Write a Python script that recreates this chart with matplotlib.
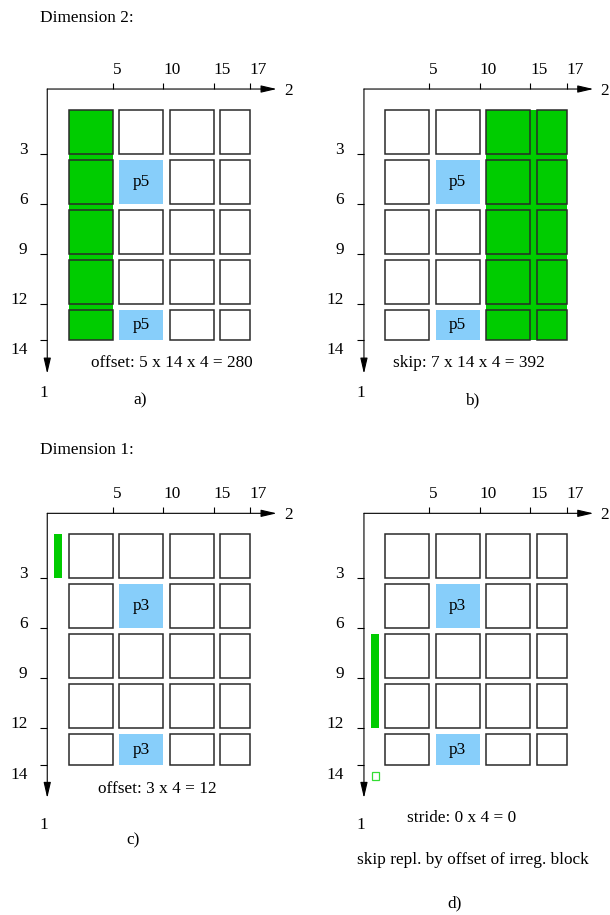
import numpy as np
import matplotlib.pyplot as plt
from matplotlib.patches import Rectangle

plt.rcParams['font.family'] = ['Liberation Serif', 'DejaVu Serif']
plt.rcParams['font.size'] = 12.4


# Block layout of the 17 x 14 array (element indices)
col_edges = [0, 5, 10, 15, 17]      # dimension 2
row_edges = [0, 3, 6, 9, 12, 14]    # dimension 1
col_ticks = [5, 10, 15, 17]
row_ticks = [3, 6, 9, 12, 14]

# the small last blocks are drawn a little wider than to scale
col_draw = [0, 5, 10, 15, 18.6]
row_draw = [0, 3, 6, 9, 12, 14.2]

# blocks owned by the processor (column block, row block)
owned_blocks = [(1, 1), (1, 4)]

# panel a/b: selected block columns, panel c/d: selected rows of dimension 1
sel_cols_a = (0, 5)
sel_cols_b = (10, 17)
sel_rows_c = (0, 3)
sel_rows_d = (6, 12)

proc_a, proc_b, proc_c, proc_d = 'p5', 'p5', 'p3', 'p3'
text_a = 'offset: 5 x 14 x 4 = 280'
text_b = 'skip: 7 x 14 x 4 = 392'
text_c = 'offset: 3 x 4 = 12'
text_d = 'stride: 0 x 4 = 0'
note_d = 'skip repl. by offset of irreg. block'


def piecewise(data_k, draw_k):
    d = np.asarray(data_k, float)
    p = np.asarray(draw_k, float)

    def fwd(v):
        v = np.asarray(v, float)
        out = np.interp(v, d, p)
        out = np.where(v < d[0], p[0] + (v - d[0]), out)
        return np.where(v > d[-1], p[-1] + (v - d[-1]), out)

    def inv(v):
        v = np.asarray(v, float)
        out = np.interp(v, p, d)
        out = np.where(v < p[0], d[0] + (v - p[0]), out)
        return np.where(v > p[-1], d[-1] + (v - p[-1]), out)
    return fwd, inv


xf, xi = piecewise(col_edges, col_draw)
yf, yi = piecewise(row_edges, row_draw)

UX, UY = 10.1, 16.67     # pixels per drawing unit
GX, GY = 0.66, 0.38      # gap between blocks (drawing units)
AX0, AY0 = -1.46, -0.88  # corner of the coordinate arrows

GREEN = '#00cc00'
BLUE = '#87cefa'
EDGE = '#2a2a2a'

W, H = 610, 915
fig = plt.figure(figsize=(W / 100, H / 100), dpi=100)


def X(p):
    return float(xi(p))


def Y(p):
    return float(yi(p))


def rect(ax, x0, x1, y0, y1, **kw):
    # x0..y1 in drawing units
    ax.add_patch(Rectangle((X(x0), Y(y0)), X(x1) - X(x0), Y(y1) - Y(y0), **kw))


def make_panel(ox, oy):
    # ox, oy: pixel position of element (0, 0)
    left, right = ox - 62, ox - 62 + 290
    top, bottom = oy - 70, oy + 330
    ax = fig.add_axes([left / W, 1 - bottom / H, (right - left) / W, (bottom - top) / H])
    ax.set_xscale('function', functions=(xf, xi))
    ax.set_yscale('function', functions=(yf, yi))
    ax.set_xlim(X(-62 / UX), X((290 - 62) / UX))
    ax.set_ylim(Y(330 / UY), Y(-70 / UY))
    ax.axis('off')

    # coordinate arrows
    arrow = dict(arrowstyle='-|>,head_length=0.95,head_width=0.22', color='black',
                 lw=0.8, shrinkA=0, shrinkB=0, mutation_scale=10)
    ax.annotate('', xy=(X(21.26), Y(AY0)), xytext=(X(AX0), Y(AY0)), arrowprops=arrow)
    ax.annotate('', xy=(X(AX0), Y(16.2)), xytext=(X(AX0), Y(AY0)), arrowprops=arrow)
    ax.text(X(21.98), Y(AY0 + 0.1), '2', ha='left', va='center')

    # ticks
    ax.vlines(col_ticks, Y(AY0 - 0.36), Y(AY0), color='black', lw=0.8)
    for t in col_ticks:
        ax.text(t, Y(-1.78), str(t), ha='left', va='baseline')
    ax.hlines(row_ticks, X(AX0 - 0.7), X(AX0), color='black', lw=0.8)
    for t in row_ticks:
        dy = 0.6 if t == row_ticks[-1] else -0.25
        ax.text(X(-3.42), Y(float(yf(t)) + dy), str(t), ha='right', va='center')
    return ax


def draw_blocks(ax, label):
    for i in range(len(col_edges) - 1):
        x0, x1 = float(xf(col_edges[i])) + GX, float(xf(col_edges[i + 1]))
        for j in range(len(row_edges) - 1):
            y0, y1 = float(yf(row_edges[j])) + GY, float(yf(row_edges[j + 1]))
            if (i, j) in owned_blocks:
                rect(ax, x0, x1, y0, y1, facecolor=BLUE, edgecolor='none', zorder=2)
                ax.text(X((x0 + x1) / 2), Y((y0 + y1) / 2), label,
                        ha='center', va='center', zorder=3)
            else:
                rect(ax, x0, x1, y0, y1, facecolor='none', edgecolor=EDGE,
                     lw=1.1, zorder=3)


def green_columns(ax, cols):
    x0, x1 = float(xf(cols[0])) + GX, float(xf(cols[1]))
    y0, y1 = float(yf(row_edges[0])) + GY, float(yf(row_edges[-1]))
    rect(ax, x0, x1, y0, y1, facecolor=GREEN, edgecolor='none', zorder=1)


def green_rows(ax, rows):
    y0, y1 = float(yf(rows[0])) + GY, float(yf(rows[1]))
    rect(ax, -0.8, 0.03, y0, y1, facecolor=GREEN, edgecolor='none', zorder=1)


# a) offset in dimension 2
ax = make_panel(62, 103.7)
green_columns(ax, sel_cols_a)
draw_blocks(ax, proc_a)
ax.text(X(-1.78), Y(17.35), '1', ha='center', va='center')
ax.text(X(10.84), Y(15.57), text_a, ha='center', va='center')
ax.text(X(7.72), Y(17.77), 'a)', ha='center', va='center')

# b) skip in dimension 2
ax = make_panel(378.7, 103.7)
green_columns(ax, sel_cols_b)
draw_blocks(ax, proc_b)
ax.text(X(-1.78), Y(17.35), '1', ha='center', va='center')
ax.text(X(8.91), Y(15.55), text_b, ha='center', va='center')
ax.text(X(9.21), Y(17.77), 'b)', ha='center', va='center')

# c) offset in dimension 1
ax = make_panel(62, 528)
green_rows(ax, sel_rows_c)
draw_blocks(ax, proc_c)
ax.text(X(-1.78), Y(17.82), '1', ha='center', va='center')
ax.text(X(9.41), Y(15.67), text_c, ha='center', va='center')
ax.text(X(7.06), Y(18.72), 'c)', ha='center', va='center')

# d) stride in dimension 1
ax = make_panel(378.7, 528)
green_rows(ax, sel_rows_d)
draw_blocks(ax, proc_d)
y_end = float(yf(row_edges[-1])) + 0.46
rect(ax, -0.69, 0.0, y_end, y_end + 0.46, facecolor='white', edgecolor='#33dd33',
     lw=0.9, zorder=2)
ax.text(X(-1.78), Y(17.82), '1', ha='center', va='center')
ax.text(X(8.25), Y(17.38), text_d, ha='center', va='center')
ax.text(X(9.32), Y(19.92), note_d, ha='center', va='center')
ax.text(X(7.55), Y(22.5), 'd)', ha='center', va='center')

fig.text(40 / W, 1 - 18 / H, 'Dimension 2:', ha='left', va='center')
fig.text(40 / W, 1 - 450 / H, 'Dimension 1:', ha='left', va='center')

fig.savefig('out.png', dpi=100)
